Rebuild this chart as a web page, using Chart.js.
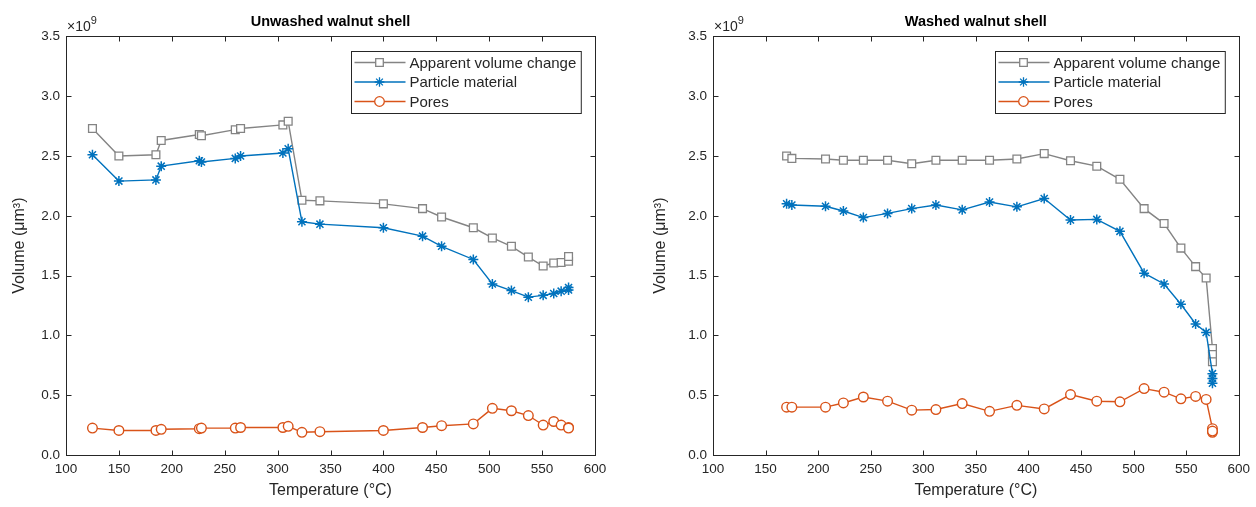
<!DOCTYPE html>
<html>
<head>
<meta charset="utf-8">
<script src="https://cdn.jsdelivr.net/npm/chart.js@4.4.1/dist/chart.umd.min.js"></script>
<style>
  body { margin: 0; background: #fff; }
  .panel { position: absolute; top: 0; width: 628px; height: 507px; }
</style>
</head>
<body>
<div class="panel" style="left:0"><canvas id="unwashed" width="628" height="507"></canvas></div>
<div class="panel" style="left:628px"><canvas id="washed" width="628" height="507"></canvas></div>
<script>
// values in units of 1e9 um^3
var tempUnwashed = [125, 150, 185, 190, 226, 228, 260, 265, 305, 310, 323, 340, 400, 437, 455, 485, 503, 521, 537, 551, 561, 568, 575, 575];
var apparentUnwashed = [2.73, 2.50, 2.51, 2.63, 2.68, 2.67, 2.72, 2.73, 2.76, 2.79, 2.13, 2.125, 2.10, 2.06, 1.99, 1.90, 1.815, 1.745, 1.655, 1.58, 1.605, 1.61, 1.62, 1.66];
var particleUnwashed = [2.51, 2.29, 2.30, 2.415, 2.46, 2.45, 2.48, 2.50, 2.525, 2.56, 1.95, 1.93, 1.90, 1.83, 1.745, 1.635, 1.43, 1.375, 1.32, 1.335, 1.35, 1.37, 1.38, 1.40];
var poresUnwashed = [0.225, 0.205, 0.205, 0.215, 0.22, 0.225, 0.225, 0.23, 0.23, 0.24, 0.19, 0.195, 0.205, 0.23, 0.245, 0.26, 0.39, 0.37, 0.33, 0.25, 0.28, 0.25, 0.23, 0.225];

var tempWashed = [170, 175, 207, 224, 243, 266, 289, 312, 337, 363, 389, 415, 440, 465, 487, 510, 529, 545, 559, 569, 575, 575, 575];
var apparentWashed = [2.50, 2.48, 2.475, 2.465, 2.465, 2.465, 2.435, 2.465, 2.465, 2.465, 2.475, 2.52, 2.46, 2.415, 2.305, 2.06, 1.935, 1.73, 1.575, 1.48, 0.89, 0.84, 0.78];
var particleWashed = [2.10, 2.09, 2.08, 2.04, 1.985, 2.02, 2.06, 2.09, 2.05, 2.115, 2.075, 2.145, 1.965, 1.97, 1.87, 1.52, 1.43, 1.26, 1.095, 1.025, 0.68, 0.64, 0.60];
var poresWashed = [0.40, 0.40, 0.40, 0.435, 0.485, 0.45, 0.375, 0.38, 0.43, 0.365, 0.415, 0.385, 0.505, 0.45, 0.445, 0.555, 0.525, 0.47, 0.49, 0.465, 0.22, 0.19, 0.20];

var seriesNames = ['Apparent volume change', 'Particle material', 'Pores'];
var xTicks = [100, 150, 200, 250, 300, 350, 400, 450, 500, 550, 600];
var yTicks = [0, 0.5, 1.0, 1.5, 2.0, 2.5, 3.0, 3.5];

var GRAY = '#848484', BLUE = '#0072BD', ORANGE = '#D95319', INK = '#262626';
var FONT = '"Liberation Sans", Arial, Helvetica, sans-serif';

function pairs(xs, ys) {
  return xs.map(function (x, i) { return {x: x, y: ys[i]}; });
}

// draw one legend marker the same way the datasets look
function drawMarker(ctx, style, x, y, color) {
  ctx.save();
  ctx.strokeStyle = color;
  ctx.fillStyle = '#fff';
  ctx.lineWidth = 1.3;
  ctx.beginPath();
  if (style === 'rect') {
    ctx.rect(x - 3.8, y - 3.8, 7.6, 7.6);
    ctx.fill(); ctx.stroke();
  } else if (style === 'circle') {
    ctx.arc(x, y, 4.8, 0, Math.PI * 2);
    ctx.fill(); ctx.stroke();
  } else {
    var r = 4.8;
    for (var k = 0; k < 4; k++) {
      var a = k * Math.PI / 4;
      ctx.moveTo(x - r * Math.cos(a), y - r * Math.sin(a));
      ctx.lineTo(x + r * Math.cos(a), y + r * Math.sin(a));
    }
    ctx.stroke();
  }
  ctx.restore();
}

// matlab-like box, inward ticks, exponent label and legend
var matlabAxes = {
  id: 'matlabAxes',
  afterDraw: function (chart) {
    var ctx = chart.ctx, a = chart.chartArea;
    var xs = chart.scales.x, ys = chart.scales.y;
    ctx.save();
    ctx.strokeStyle = INK;
    ctx.lineWidth = 1;
    var L = Math.round(a.left) + 0.5, R = Math.round(a.right) + 0.5;
    var T = Math.round(a.top) + 0.5, B = Math.round(a.bottom) + 0.5;
    ctx.strokeRect(L, T, R - L, B - T);
    ctx.beginPath();
    xTicks.forEach(function (v) {
      var px = Math.round(xs.getPixelForValue(v)) + 0.5;
      ctx.moveTo(px, B); ctx.lineTo(px, B - 5);
      ctx.moveTo(px, T); ctx.lineTo(px, T + 5);
    });
    yTicks.forEach(function (v) {
      var py = Math.round(ys.getPixelForValue(v)) + 0.5;
      ctx.moveTo(L, py); ctx.lineTo(L + 5, py);
      ctx.moveTo(R, py); ctx.lineTo(R - 5, py);
    });
    ctx.stroke();

    // x10^9
    ctx.fillStyle = INK;
    ctx.textAlign = 'left';
    ctx.textBaseline = 'alphabetic';
    ctx.font = '14px ' + FONT;
    ctx.fillText('\u00d710', a.left + 1, a.top - 5);
    var w = ctx.measureText('\u00d710').width;
    ctx.font = '11px ' + FONT;
    ctx.fillText('9', a.left + 1 + w, a.top - 12);

    // legend
    ctx.font = '15px ' + FONT;
    var textW = ctx.measureText(seriesNames[0]).width;
    var boxW = 58 + textW + 5, boxH = 62;
    var bx = Math.round(a.right - 14 - boxW) + 0.5, by = Math.round(a.top + 15) + 0.5;
    ctx.fillStyle = '#fff';
    ctx.fillRect(bx, by, boxW, boxH);
    ctx.strokeStyle = INK;
    ctx.strokeRect(bx, by, boxW, boxH);
    ctx.textBaseline = 'middle';
    chart.data.datasets.forEach(function (ds, i) {
      var ry = by + 11 + i * 19.5;
      ctx.strokeStyle = ds.borderColor;
      ctx.lineWidth = 1.3;
      ctx.beginPath();
      ctx.moveTo(bx + 3, ry); ctx.lineTo(bx + 54, ry);
      ctx.stroke();
      drawMarker(ctx, ds.pointStyle, bx + 28, ry, ds.borderColor);
      ctx.fillStyle = INK;
      ctx.fillText(ds.label, bx + 58, ry + 1);
    });
    ctx.restore();
  }
};

function makeChart(id, title, temps, apparent, particle, pores, padLeft, axisW, padRight) {
  return new Chart(document.getElementById(id), {
    type: 'line',
    plugins: [matlabAxes],
    data: {
      datasets: [{
        label: seriesNames[0],
        data: pairs(temps, apparent),
        borderColor: GRAY,
        borderWidth: 1.4,
        pointStyle: 'rect',
        pointRadius: 5.5,
        pointBorderWidth: 1.3,
        pointBackgroundColor: '#fff',
        pointBorderColor: GRAY,
        order: 3
      }, {
        label: seriesNames[1],
        data: pairs(temps, particle),
        borderColor: BLUE,
        borderWidth: 1.4,
        pointStyle: 'star',
        pointRadius: 5,
        pointBorderWidth: 1.5,
        pointBackgroundColor: BLUE,
        pointBorderColor: BLUE,
        order: 2
      }, {
        label: seriesNames[2],
        data: pairs(temps, pores),
        borderColor: ORANGE,
        borderWidth: 1.4,
        pointStyle: 'circle',
        pointRadius: 4.8,
        pointBorderWidth: 1.4,
        pointBackgroundColor: '#fff',
        pointBorderColor: ORANGE,
        order: 1
      }]
    },
    options: {
      responsive: false,
      animation: false,
      devicePixelRatio: 1,
      events: [],
      layout: { padding: { left: padLeft, right: padRight, top: 0, bottom: 3 } },
      elements: { line: { tension: 0 } },
      plugins: {
        legend: { display: false },
        tooltip: { enabled: false },
        title: {
          display: true,
          text: title,
          fullSize: false,
          color: '#000',
          font: { family: FONT, size: 14.5, weight: 'bold' },
          padding: { top: 13, bottom: 6 }
        }
      },
      scales: {
        x: {
          type: 'linear',
          min: 100, max: 600,
          afterBuildTicks: function (s) { s.ticks = xTicks.map(function (v) { return {value: v}; }); },
          afterFit: function (s) { s.height = 49; },
          ticks: { autoSkip: false, maxRotation: 0, padding: 6, color: INK, font: { family: FONT, size: 13.5 } },
          grid: { display: false, drawTicks: false, tickLength: 0 },
          border: { display: false },
          title: { display: true, text: 'Temperature (\u00b0C)', color: INK, font: { family: FONT, size: 16 }, padding: { top: 2, bottom: 4 } }
        },
        y: {
          min: 0, max: 3.5,
          afterBuildTicks: function (s) { s.ticks = yTicks.map(function (v) { return {value: v}; }); },
          afterFit: function (s) { s.width = axisW; },
          ticks: { padding: 6, color: INK, font: { family: FONT, size: 13.5 }, callback: function (v) { return v.toFixed(1); } },
          grid: { display: false, drawTicks: false, tickLength: 0 },
          border: { display: false },
          title: { display: true, text: 'Volume (\u03bcm\u00b3)', color: INK, font: { family: FONT, size: 16 }, padding: { top: 4, bottom: 4 } }
        }
      }
    }
  });
}

makeChart('unwashed', 'Unwashed walnut shell', tempUnwashed, apparentUnwashed, particleUnwashed, poresUnwashed, 6, 60, 33);
makeChart('washed', 'Washed walnut shell', tempWashed, apparentWashed, particleWashed, poresWashed, 19, 66, 16);
</script>
</body>
</html>
